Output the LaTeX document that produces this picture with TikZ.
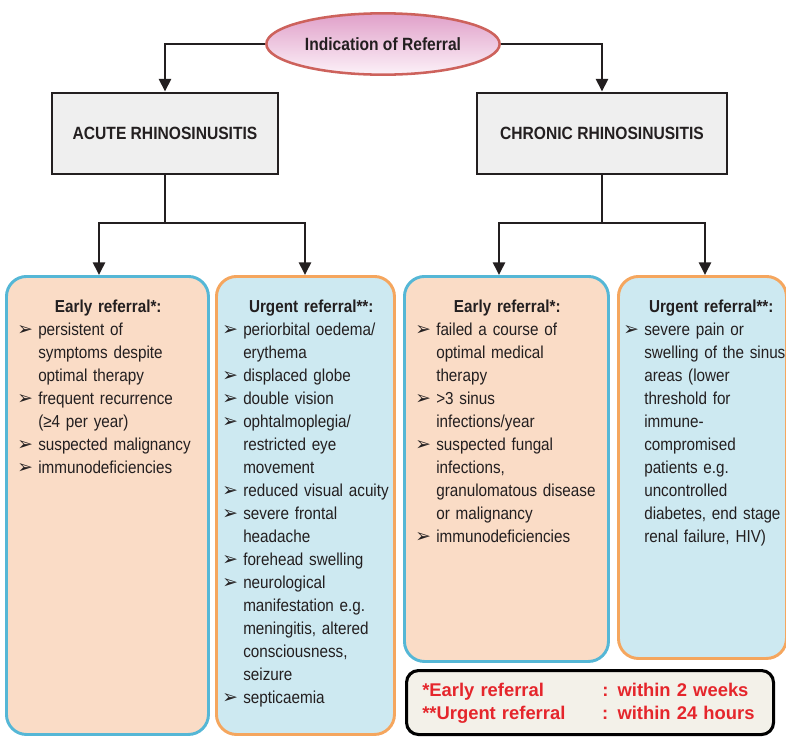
\documentclass[tikz,border=0pt]{standalone}
\usepackage{fontspec}
\setmainfont{Liberation Sans}[FakeStretch=0.88]
\newfontfamily\legendfont{Liberation Sans}
\newfontfamily\symfont{DejaVu Sans}
\usepackage{tikz}
\usetikzlibrary{arrows.meta, positioning, shapes.geometric}
\usepackage{xcolor}
\definecolor{peach}{HTML}{FADCC6}
\definecolor{skyfill}{HTML}{CDE9F1}
\definecolor{skyline}{HTML}{55B7D6}
\definecolor{orangeline}{HTML}{F5A65E}
\definecolor{headfill}{HTML}{EFEFEF}
\definecolor{legendfill}{HTML}{F3F1E9}
\definecolor{legendred}{HTML}{E5262C}
\definecolor{ovaltop}{HTML}{E0A0C9}
\definecolor{ovalbottom}{HTML}{FCF1F8}
\definecolor{ovalline}{HTML}{CD625C}
\definecolor{ink}{HTML}{231F20}
\newcommand{\bul}{{\symfont\fontsize{14}{14}\selectfont ➢}}
\newcommand{\itm}[1]{\par\noindent\hangindent=15.75pt\hangafter=1\makebox[15.75pt][l]{\bul}#1}
\newcommand{\ttl}[2]{\noindent\makebox[#1]{\bfseries #2}\par}
\tikzset{%
	every box/.style={
		draw,
		rounded corners=15pt,
		line width=2.2pt,
		anchor=north west
	},
	list text/.style={
		anchor=base west,
		inner sep=0pt,
		text width=160pt,
		align=left,
		text=ink,
		font=\fontsize{13}{17.25}\selectfont
	},
}

\begin{document}
\begin{tikzpicture}[x=0.75pt,y=-0.75pt]
	\tikzstyle{head}=[draw=ink,line width=2.2pt,fill=headfill,text=ink,font=\fontsize{13.3}{15}\selectfont\bfseries]
	\tikzstyle{early}=[every box,draw=skyline,fill=peach]
	\tikzstyle{urgent}=[every box,draw=orangeline,fill=skyfill]
	\tikzstyle{line}=[draw=ink,line width=1.9pt]
	\tikzstyle{arrow}=[line,-{Triangle[width=9pt,length=9.5pt]}]
	
	\useasboundingbox (0,0) rectangle (786,736);
	
	\node[ellipse,draw=ovalline,line width=1.9pt,top color=ovaltop,bottom color=ovalbottom,
		minimum width=161pt,minimum height=46pt,text=ink,
		font=\fontsize{13.3}{15}\selectfont\bfseries](ind) at (383,44){Indication of Referral};
	
	\node[head,minimum width=169.5pt,minimum height=60.75pt](acute) at (165,133.5){ACUTE RHINOSINUSITIS};
	\node[head,minimum width=187.5pt,minimum height=60.75pt](chronic) at (602,133.5){CHRONIC RHINOSINUSITIS};
	
	\draw[arrow] (ind.west) -| (acute.north);
	\draw[arrow] (ind.east) -| (chronic.north);
	
	% referral boxes
	\node[early,minimum width=151.5pt,minimum height=343.5pt](ae) at (5,275){};
	\node[urgent,minimum width=133.5pt,minimum height=343.5pt](au) at (215,275){};
	\node[early,minimum width=153pt,minimum height=288.75pt](ce) at (403,275){};
	\node[urgent,minimum width=126pt,minimum height=286.5pt](cu) at (617,275){};
	
	\coordinate (asplit) at (165,223);
	\coordinate (aleft) at (99,223);
	\coordinate (aright) at (305,223);
	\draw[line] (acute.south) -- (asplit);
	\draw[arrow] (asplit) -| (aleft |- ae.north);
	\draw[arrow] (asplit) -| (aright |- au.north);
	
	\coordinate (csplit) at (602,223);
	\coordinate (cleft) at (499,223);
	\coordinate (cright) at (705,223);
	\draw[line] (chronic.south) -- (csplit);
	\draw[arrow] (csplit) -| (cleft |- ce.north);
	\draw[arrow] (csplit) -| (cright |- cu.north);
	
	\node[list text](aetext) at (17,312){%
		\ttl{136.5pt}{Early referral*:}%
		\itm{persistent of\newline symptoms despite\newline optimal therapy}%
		\itm{frequent recurrence\newline (≥4 per year)}%
		\itm{suspected malignancy}%
		\itm{immunodeficiencies}\par};
	
	\node[list text](autext) at (222,312){%
		\ttl{133.5pt}{Urgent referral**:}%
		\itm{periorbital oedema/\newline erythema}%
		\itm{displaced globe}%
		\itm{double vision}%
		\itm{ophtalmoplegia/\newline restricted eye\newline movement}%
		\itm{reduced visual acuity}%
		\itm{severe frontal\newline headache}%
		\itm{forehead swelling}%
		\itm{neurological\newline manifestation e.g.\newline meningitis, altered\newline consciousness,\newline seizure}%
		\itm{septicaemia}\par};
	
	\node[list text](cetext) at (415,312){%
		\ttl{138pt}{Early referral*:}%
		\itm{failed a course of\newline optimal medical\newline therapy}%
		\itm{>3 sinus\newline infections/year}%
		\itm{suspected fungal\newline infections,\newline granulomatous disease\newline or malignancy}%
		\itm{immunodeficiencies}\par};
	
	\node[list text](cutext) at (623,312){%
		\ttl{132pt}{Urgent referral**:}%
		\itm{severe pain or\newline swelling of the sinus\newline areas (lower\newline threshold for\newline immune-\newline compromised\newline patients e.g.\newline uncontrolled\newline diabetes, end stage\newline renal failure, HIV)}\par};
	
	% key
	\node[draw=black,line width=2.3pt,rounded corners=9pt,fill=legendfill,anchor=north west,
		minimum width=275.25pt,minimum height=48pt](key) at (405,669){};
	\node[list text,text width=260pt,text=legendred,font=\legendfont\fontsize{13.8}{17.25}\selectfont\bfseries](keytext) at (422,696){%
		\makebox[135pt][l]{*Early referral}: within 2 weeks\newline
		\makebox[135pt][l]{**Urgent referral}: within 24 hours\par};
\end{tikzpicture}
\end{document}
